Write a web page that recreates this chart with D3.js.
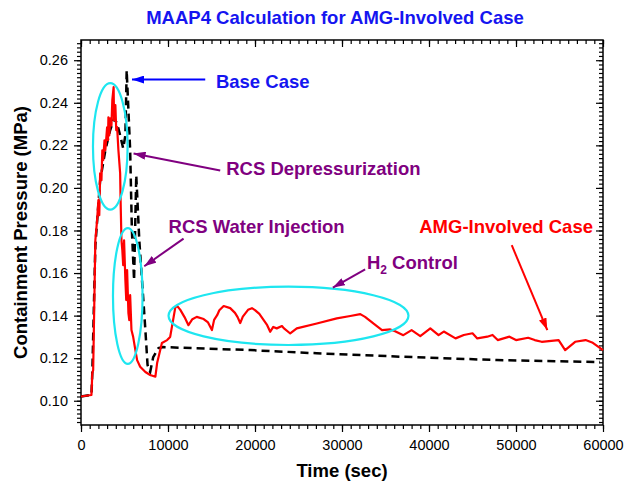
<!DOCTYPE html>
<html>
<head>
<meta charset="utf-8">
<script src="https://cdn.jsdelivr.net/npm/d3@7"></script>
<style>
  body { margin: 0; background: #fff; }
  text { font-family: "Liberation Sans", Arial, sans-serif; }
</style>
</head>
<body>
<div id="chart"></div>
<script>
// AMG-involved case (red solid)
const amgTime = [0,1200,1300,1400,1650,1850,2000,2100,2200,2350,2450,2550,2700,2800,3000,3100,3150,3250,3350,3500,3600,3750,3800,3950,4050,4150,4300,4500,4550,4650,4750,4850,4950,5100,5200,5300,5450,5550,5650,5800,6000,6250,6450,6800,7400,7950,8550,8750,9300,9900,10250,10450,10850,11050,11400,11900,12350,12800,13300,14100,14600,15050,15300,15650,15900,16400,17150,17700,18000,18300,18600,19200,19650,20000,20500,21000,21400,21750,22100,22500,23100,23300,24050,24800,27100,29400,30950,32100,32650,33600,34600,35550,36100,37050,38000,39000,40150,41100,41700,43050,44000,45000,45550,46700,47300,47900,49250,50000,51400,52150,52950,54900,55650,56800,58000,58750,60000]
const amgPressure = [0.102,0.1027,0.113,0.1144,0.1754,0.1848,0.1943,0.1872,0.2069,0.2036,0.2177,0.2130,0.2224,0.2177,0.2285,0.2224,0.2332,0.2247,0.2327,0.2294,0.2412,0.2474,0.2318,0.2389,0.2271,0.2286,0.2177,0.2069,0.1943,0.1754,0.1708,0.1637,0.1754,0.1567,0.1473,0.1614,0.1412,0.1379,0.1496,0.1332,0.1299,0.1238,0.1191,0.1160,0.1135,0.1121,0.1113,0.1177,0.1271,0.1285,0.1300,0.1347,0.1441,0.1445,0.1428,0.1393,0.1355,0.1383,0.1394,0.1384,0.1368,0.1332,0.1380,0.1402,0.1425,0.1445,0.1435,0.1413,0.1393,0.1365,0.1395,0.1427,0.1435,0.1426,0.1408,0.1379,0.1355,0.1324,0.1347,0.1340,0.1351,0.1341,0.1316,0.1340,0.1363,0.1387,0.1398,0.1407,0.1394,0.1363,0.1332,0.1335,0.1327,0.1308,0.1332,0.1304,0.1340,0.1308,0.1325,0.1293,0.1309,0.1317,0.1293,0.1301,0.1309,0.1285,0.1301,0.1285,0.1296,0.1285,0.1277,0.1285,0.1238,0.1277,0.1285,0.1274,0.1238]

// base case (black dashed)
const baseTime = [0,1200,1300,1650,2200,2800,3350,3800,4150,4500,4850,5100,5250,5450,5650,5850,6100,6350,6700,7050,7400,7650,7950,8300,8900,9450,19450,27100,36700,47800,59650]
const basePressure = [0.102,0.1027,0.113,0.173,0.2035,0.2177,0.2271,0.2327,0.2303,0.2247,0.2186,0.2247,0.2552,0.2365,0.2177,0.1801,0.1566,0.2059,0.1754,0.1543,0.1332,0.1168,0.1135,0.1205,0.1247,0.1252,0.1238,0.1223,0.1207,0.1191,0.1182]

// axis ticks
const xTicks = [0,10000,20000,30000,40000,50000,60000]
const yTicks = [0.10,0.12,0.14,0.16,0.18,0.20,0.22,0.24,0.26]

// annotations (data units)
const ellipseCenters = [[3366,0.2195],[5376,0.1492],[23850,0.1399]]
const ellipseRadii = [[1990,0.0297],[1700,0.0319],[13790,0.0137]]
const arrowFrom = [[14280,0.2509],[16000,0.2082],[11790,0.1762],[32660,0.1617],[49510,0.1731]]
const arrowTo = [[5860,0.2509],[6040,0.2162],[7270,0.1632],[28950,0.1532],[53600,0.1332]]
const arrowColors = ["blue","purple","purple","purple","red"]
const labelText = ["Base Case","RCS Depressurization","RCS Water Injection","H2 Control","AMG-Involved Case"]
const labelPos = [[15510,0.2471],[16690,0.2060],[10060,0.1787],[32860,0.1617],[58850,0.1787]]
const labelColors = ["#1515f0","#800080","#800080","#800080","#ff0000"]
const labelAnchor = ["start","start","start","start","end"]

const margin = {top: 40, right: 23, bottom: 64, left: 81}
const width = 626 - margin.left - margin.right
const height = 489 - margin.top - margin.bottom

var svg = d3.select("#chart")
  .append("svg")
  .attr("width", 626)
  .attr("height", 489)

var g = svg.append("g")
  .attr("transform", "translate(" + margin.left + "," + margin.top + ")")

var x = d3.scaleLinear().domain([0, 60000]).range([0, width])
var y = d3.scaleLinear().domain([0.0886, 0.2695]).range([height, 0])

const xMinor = d3.range(0, 60001, 1000)
const yMinor = d3.range(90, 270, 2).map(v => v / 1000)

function styleAxis(sel) {
  sel.select(".domain").remove()
  sel.selectAll("line").attr("stroke", "#000").attr("stroke-width", 1.2)
  sel.selectAll("text").style("font-size", "14.5px").attr("fill", "#000")
}

// minor ticks
g.append("g").attr("transform", "translate(0," + height + ")")
  .call(d3.axisBottom(x).tickValues(xMinor).tickSize(4).tickFormat("")).call(styleAxis)
g.append("g")
  .call(d3.axisTop(x).tickValues(xMinor).tickSize(-4).tickFormat("")).call(styleAxis)
g.append("g")
  .call(d3.axisLeft(y).tickValues(yMinor).tickSize(4).tickFormat("")).call(styleAxis)
g.append("g").attr("transform", "translate(" + width + ",0)")
  .call(d3.axisRight(y).tickValues(yMinor).tickSize(-4).tickFormat("")).call(styleAxis)

// major ticks
g.append("g").attr("transform", "translate(0," + height + ")")
  .call(d3.axisBottom(x).tickValues(xTicks).tickSize(7).tickPadding(8).tickFormat(d3.format("d"))).call(styleAxis)
g.append("g")
  .call(d3.axisTop(x).tickValues(xTicks).tickSize(-7).tickFormat("")).call(styleAxis)
g.append("g")
  .call(d3.axisLeft(y).tickValues(yTicks).tickSize(7).tickPadding(6).tickFormat(d3.format(".2f"))).call(styleAxis)
g.append("g").attr("transform", "translate(" + width + ",0)")
  .call(d3.axisRight(y).tickValues(yTicks).tickSize(-7).tickFormat("")).call(styleAxis)

// frame
g.append("rect")
  .attr("width", width).attr("height", height)
  .attr("fill", "none").attr("stroke", "#000").attr("stroke-width", 1.5)

var line = d3.line().x(d => x(d[0])).y(d => y(d[1]))

// base case
g.append("path")
  .datum(d3.zip(baseTime, basePressure))
  .attr("d", line)
  .attr("fill", "none")
  .attr("stroke", "#000")
  .attr("stroke-width", 2.5)
  .attr("stroke-dasharray", "8,5")

// AMG-involved case
g.append("path")
  .datum(d3.zip(amgTime, amgPressure))
  .attr("d", line)
  .attr("fill", "none")
  .attr("stroke", "#ff0000")
  .attr("stroke-width", 2.2)
  .attr("stroke-linejoin", "round")

// cyan ellipses
g.selectAll(".ell")
  .data(d3.zip(ellipseCenters, ellipseRadii))
  .enter()
  .append("ellipse")
  .attr("cx", d => x(d[0][0]))
  .attr("cy", d => y(d[0][1]))
  .attr("rx", d => x(d[0][0] + d[1][0]) - x(d[0][0]))
  .attr("ry", d => y(d[0][1] - d[1][1]) - y(d[0][1]))
  .attr("fill", "none")
  .attr("stroke", "#1ee6f0")
  .attr("stroke-width", 2.2)

// arrow heads
var defs = svg.append("defs")
arrowColors.forEach(function(c) {
  defs.append("marker")
    .attr("id", "head-" + c)
    .attr("markerUnits", "userSpaceOnUse")
    .attr("markerWidth", 12).attr("markerHeight", 8)
    .attr("refX", 12).attr("refY", 4)
    .attr("orient", "auto")
    .append("path")
    .attr("d", "M0,0L12,4L0,8Z")
    .attr("fill", c)
})

g.selectAll(".arrow")
  .data(d3.range(arrowFrom.length))
  .enter()
  .append("line")
  .attr("x1", i => x(arrowFrom[i][0]))
  .attr("y1", i => y(arrowFrom[i][1]))
  .attr("x2", i => x(arrowTo[i][0]))
  .attr("y2", i => y(arrowTo[i][1]))
  .attr("stroke", i => arrowColors[i])
  .attr("stroke-width", 2)
  .attr("marker-end", i => "url(#head-" + arrowColors[i] + ")")

// labels
labelText.forEach(function(t, i) {
  var txt = g.append("text")
    .attr("x", x(labelPos[i][0]))
    .attr("y", y(labelPos[i][1]))
    .attr("text-anchor", labelAnchor[i])
    .attr("fill", labelColors[i])
    .style("font-size", "18.5px")
    .style("font-weight", "bold")
  if (t.startsWith("H2")) {
    txt.append("tspan").text("H")
    txt.append("tspan").text("2").attr("dy", 5).style("font-size", "12px")
    txt.append("tspan").text(" " + t.slice(3)).attr("dy", -5)
  } else {
    txt.text(t)
  }
})

// title and axis titles
svg.append("text")
  .attr("x", 335).attr("y", 24)
  .attr("text-anchor", "middle")
  .attr("fill", "#1515f0")
  .style("font-size", "18.5px").style("font-weight", "bold")
  .text("MAAP4 Calculation for AMG-Involved Case")

svg.append("text")
  .attr("x", margin.left + width / 2).attr("y", 477)
  .attr("text-anchor", "middle")
  .style("font-size", "18.5px").style("font-weight", "bold")
  .text("Time (sec)")

svg.append("text")
  .attr("transform", "translate(27," + (margin.top + height / 2) + ") rotate(-90)")
  .attr("text-anchor", "middle")
  .style("font-size", "18.5px").style("font-weight", "bold")
  .text("Containment Pressure (MPa)")
</script>
</body>
</html>
